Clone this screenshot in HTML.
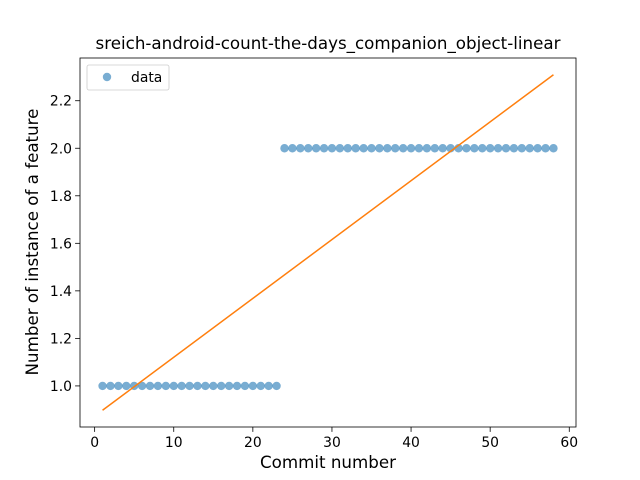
<!DOCTYPE html>
<html><head><meta charset="utf-8"><style>
body{margin:0;background:#fff}
svg{display:block;font-family:"DejaVu Sans","Liberation Sans",sans-serif}
</style></head><body>
<svg id="chart" width="640" height="480"></svg>
<script>
const xValues=[];for(let i=1;i<=58;i++)xValues.push(i);
const yValues=[1,1,1,1,1,1,1,1,1,1,1,1,1,1,1,1,1,1,1,1,1,1,1,2,2,2,2,2,2,2,2,2,2,2,2,2,2,2,2,2,2,2,2,2,2,2,2,2,2,2,2,2,2,2,2,2,2,2];
const xTicks=[0,10,20,30,40,50,60];
const yTicks=[1.0,1.2,1.4,1.6,1.8,2.0,2.2];
const L=80,R=576,T=58,B=427;
const n=xValues.length;
const mx=xValues.reduce((a,b)=>a+b)/n,my=yValues.reduce((a,b)=>a+b)/n;
let sxy=0,sxx=0;for(let i=0;i<n;i++){sxy+=(xValues[i]-mx)*(yValues[i]-my);sxx+=(xValues[i]-mx)**2;}
const slope=sxy/sxx,icpt=my-slope*mx;
const fx0=xValues[0],fx1=xValues[n-1],fy0=icpt+slope*fx0,fy1=icpt+slope*fx1;
const xmin0=Math.min(...xValues),xmax0=Math.max(...xValues);
const ymin0=Math.min(...yValues,fy0,fy1),ymax0=Math.max(...yValues,fy0,fy1);
const xm=(xmax0-xmin0)*0.05,ym=(ymax0-ymin0)*0.05;
const xmin=xmin0-xm,xmax=xmax0+xm,ymin=ymin0-ym,ymax=ymax0+ym;
const sx=v=>L+(v-xmin)/(xmax-xmin)*(R-L);
const sy=v=>B-(v-ymin)/(ymax-ymin)*(B-T);
const svg=document.getElementById('chart');
const NS='http://www.w3.org/2000/svg';
function el(tag,attrs,parent){const e=document.createElementNS(NS,tag);for(const k in attrs)e.setAttribute(k,attrs[k]);(parent||svg).appendChild(e);return e;}
let t=el('text',{x:328,y:49,'text-anchor':'middle','font-size':16.7,fill:'#000'});t.textContent='sreich-android-count-the-days_companion_object-linear';


xTicks.forEach(v=>{const x=sx(v);el('line',{x1:x,x2:x,y1:B,y2:B+4.9,stroke:'#000','stroke-width':0.8});
 const tx=el('text',{x:x,y:B+20,'text-anchor':'middle','font-size':13.9,fill:'#000'});tx.textContent=v;
 
 });
yTicks.forEach(v=>{const y=sy(v);el('line',{x1:L-4.9,x2:L,y1:y,y2:y,stroke:'#000','stroke-width':0.8});
 const tx=el('text',{x:L-8,y:y+5,'text-anchor':'end','font-size':13.9,fill:'#000'});tx.textContent=v.toFixed(1);
 
 });
xValues.forEach((v,i)=>{const c=el('circle',{cx:sx(v),cy:sy(yValues[i]),r:4.2,fill:'#1f77b4','fill-opacity':0.6});
 
 });
const fl=el('line',{x1:sx(fx0),y1:sy(fy0),x2:sx(fx1),y2:sy(fy1),stroke:'#ff7f0e','stroke-width':1.5});


el('rect',{x:L,y:T,width:R-L,height:B-T,fill:'none',stroke:'#000','stroke-width':0.8});
t=el('text',{x:328,y:468,'text-anchor':'middle','font-size':16.7,fill:'#000'});t.textContent='Commit number';


t=el('text',{x:0,y:0,'text-anchor':'middle','font-size':16.7,fill:'#000',transform:'translate(38,242) rotate(-90)'});t.textContent='Number of instance of a feature';


const lg=el('g',{});


el('rect',{x:87,y:65,width:82,height:25,rx:2,fill:'#fff','fill-opacity':0.8,stroke:'#ccc','stroke-width':0.8},lg);
el('circle',{cx:107,cy:77,r:4.2,fill:'#1f77b4','fill-opacity':0.6},lg);
t=el('text',{x:131,y:82,'font-size':13.9,fill:'#000'},lg);t.textContent='data';
</script>
</body></html>
